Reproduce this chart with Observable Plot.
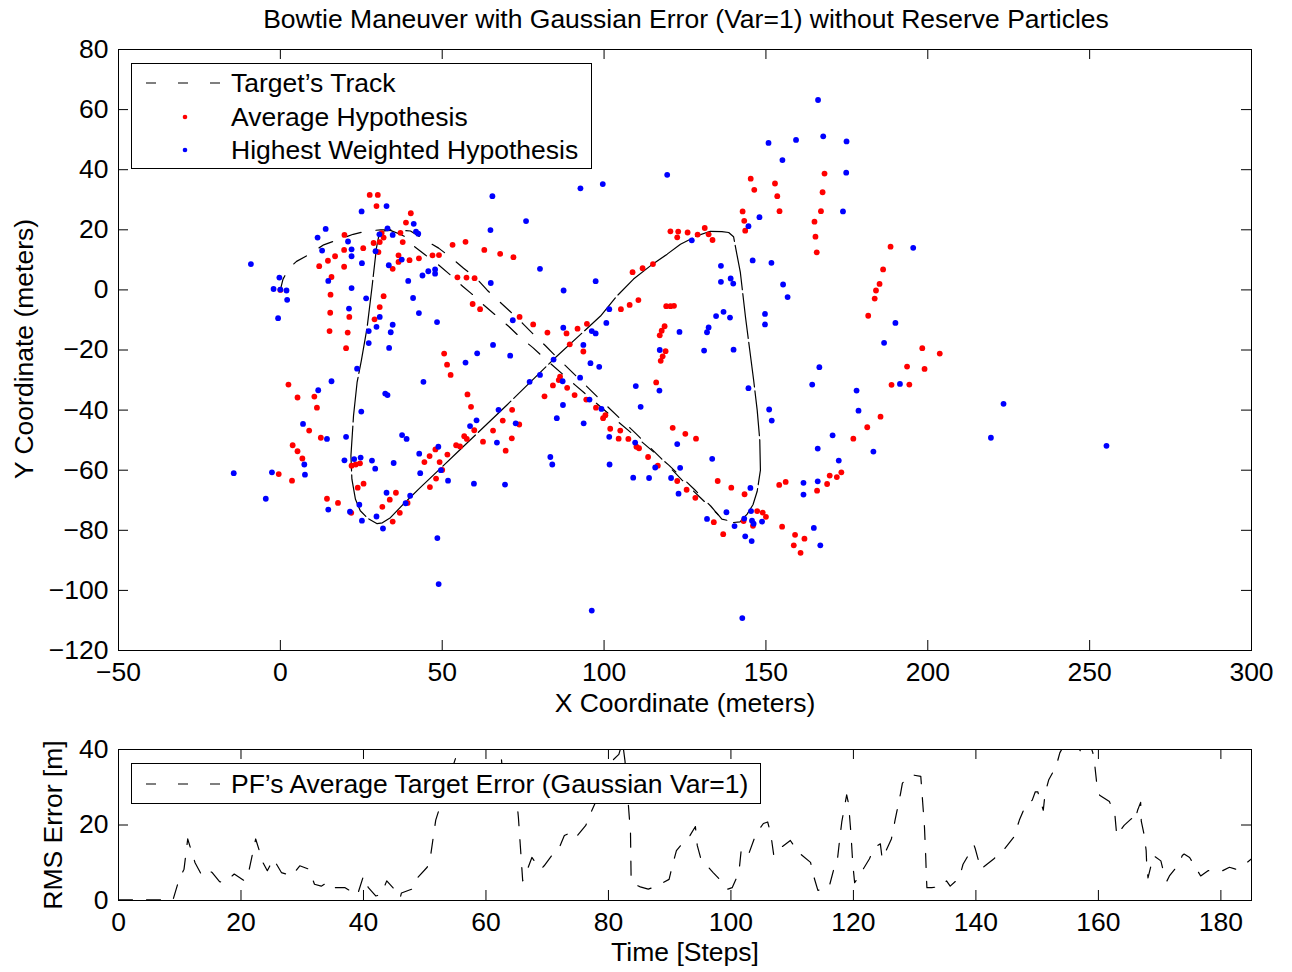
<!DOCTYPE html>
<html>
<head>
<meta charset="utf-8">
<script src="https://cdn.jsdelivr.net/npm/d3@7"></script>
<script src="https://cdn.jsdelivr.net/npm/@observablehq/plot@0.6"></script>
<style>
  body { margin: 0; background: #fff; }
  #fig { position: relative; width: 1292px; height: 972px; background: #fff; color: #000; overflow: hidden; }
  #fig > svg, #fig > .layer { position: absolute; left: 0; }
</style>
</head>
<body>
<div id="fig"></div>
<script>
// ---------------- data ----------------
const titleText = "Bowtie Maneuver with Gaussian Error (Var=1) without Reserve Particles";
const xLabelTop = "X Coordinate (meters)";
const yLabelTop = "Y Coordinate (meters)";
const xLabelBottom = "Time [Steps]";
const yLabelBottom = "RMS Error [m]";
const legendTop = ["Target\u2019s Track", "Average Hypothesis", "Highest Weighted Hypothesis"];
const legendBottom = ["PF\u2019s Average Target Error (Gaussian Var=1)"];

const xTicksTop = [-50, 0, 50, 100, 150, 200, 250, 300];
const yTicksTop = [-120, -100, -80, -60, -40, -20, 0, 20, 40, 60, 80];
const xTicksBottom = [0, 20, 40, 60, 80, 100, 120, 140, 160, 180];
const yTicksBottom = [0, 20, 40];

// Average Hypothesis (red)
const avgX = [27.6,30.1,29.7,40.3,38.8,19.8,31.3,31.9,37.1,28.8,30.7,37.8,19.7,25.6,30.3,16.9,14.7,12.0,19.7,36.5,36.5,39.9,42.8,34.7,15.8,0,15.5,31.9,30.7,29.1,15.4,21.3,15.2,20.8,20.3,2.5,5.3,10.5,11.3,8.9,12.5,3.8,5.3,6.8,-0.5,3.6,22.0,23.3,24.6,25.7,23.9,35.7,33.8,39.3,14.4,17.8,31.5,21.9,36.9,34.7,
53.2,57.2,63.0,67.9,72.0,47.0,49.0,54.7,57.5,60.0,59.4,61.7,73.9,78.1,82.5,88.4,91.8,94.7,89.4,93.6,50.6,51.5,52.6,57.8,58.9,71.6,68.7,73.8,65.7,59.9,56.8,57.6,62.6,71.5,54.3,55.5,69.6,47.9,46.1,44.5,51.6,49.2,50.0,48.1,46.2,86.4,86.0,84.2,88.6,81.6,90.9,94.5,97.5,100.4,99.7,101.9,
145.3,146.4,152.8,153.5,154.2,142.8,143.3,143.6,120.5,122.9,125.8,122.6,131.1,128.9,132.3,133.5,115.1,111.9,108.8,110.6,107.9,105.2,119.2,120.5,121.6,118.7,117.8,117.2,119.0,118.1,117.5,116.1,105.0,104.5,107.5,110.0,110.8,121.2,125.1,128.4,113.6,116.6,122.6,125.5,128.2,135.1,139.3,143.4,133.9,136.8,143.1,146.0,147.3,149.0,150.0,154.1,156.1,155.0,159.0,158.6,160.7,
168.1,167.5,167.0,165.0,165.3,165.7,188.5,186.2,185.1,184.0,183.6,181.6,198.3,203.7,193.6,199.0,188.8,194.3,185.4,181.3,177.0,173.3,171.9,169.7,168.9,165.8,161.9];
const avgY = [31.6,31.6,27.9,25.5,22.4,18.3,18.9,17.4,19.0,15.6,15.9,15.9,13.3,13.9,12.6,11.2,9.7,7.9,7.7,11.5,9.3,9.9,10.5,7.0,4.3,0,-1.6,-2.1,-5.7,-9.8,-7.6,-9.0,-13.7,-14.2,-19.4,-31.5,-35.8,-35.5,-39.2,-46.8,-49.2,-51.7,-53.7,-56.1,-61.3,-63.5,-58.5,-58.1,-57.7,-64.5,-65.8,-67.5,-69.8,-70.9,-69.5,-70.9,-72.2,-74.2,-74.2,-77.1,
15.0,16.0,13.3,12.0,10.9,11.5,11.6,4.2,4.1,3.9,-4.7,-6.4,-9.0,-11.5,-14.2,-14.5,-12.9,-11.3,-18.1,-20.5,-21.2,-24.9,-28.3,-34.8,-38.9,-39.9,-43.5,-44.8,-46.8,-46.7,-48.7,-49.6,-50.5,-49.4,-51.7,-52.1,-53.5,-53.1,-55.3,-57.3,-54.8,-57.3,-59.9,-62.8,-65.6,-28.9,-30.0,-31.8,-32.6,-35.4,-35.0,-36.5,-39.2,-41.7,-42.7,-46.2,
37.0,33.3,35.4,31.2,26.2,26.1,23.0,19.7,19.5,19.4,19.1,17.5,20.6,18.4,18.5,16.6,8.6,7.2,5.9,-3.4,-5.0,-6.4,-5.4,-5.4,-5.3,-12.1,-13.6,-15.1,-20.4,-22.1,-23.6,-30.8,-46.8,-49.5,-49.6,-52.2,-52.7,-45.9,-47.9,-49.5,-55.6,-58.5,-63.6,-66.5,-69.2,-63.6,-65.8,-68.0,-77.3,-81.3,-76.9,-78.5,-73.6,-74.1,-75.5,-64.9,-63.9,-78.8,-81.5,-85.0,-87.5,
38.7,32.5,26.2,22.7,17.7,12.5,14.4,6.8,2.0,-0.2,-2.9,-8.6,-19.4,-21.2,-25.5,-26.3,-31.6,-31.5,-42.2,-45.7,-49.5,-60.7,-62.3,-61.8,-64.6,-66.8,-82.8];

// Highest Weighted Hypothesis (blue)
const bestX = [32.8,25.1,14.0,11.5,20.9,33.1,30.6,34.7,41.2,41.9,42.6,12.9,22.0,22.0,29.4,25.2,33.5,37.5,-9.1,-0.3,-2.1,0,1.9,2.1,-0.7,14.8,22.0,39.5,41.0,42.8,26.5,21.2,30.7,34.7,29.7,27.3,34.1,27.3,33.6,
23.7,15.8,11.7,32.4,33.1,25.0,7.0,20.3,14.4,37.6,39.0,42.9,19.8,22.8,24.8,28.3,29.3,35.0,7.4,7.6,-2.6,-14.4,43.2,-4.5,32.8,40.1,24.4,38.7,14.8,21.5,29.7,25.2,31.7,
65.5,75.9,92.7,99.6,64.9,80.2,47.8,45.7,47.8,43.9,65.0,87.5,97.4,48.4,71.8,87.4,100.7,101.6,96.2,97.4,93.6,65.7,60.8,71.0,84.4,57.2,44.2,80.2,77.0,87.2,92.6,95.8,98.5,95.5,99.2,87.3,85.4,93.7,101.6,101.7,67.4,60.6,58.6,72.7,66.9,48.8,49.6,51.8,59.8,69.4,83.4,84.0,48.5,48.9,96.2,
119.5,150.8,159.3,155.1,148.0,144.6,127.1,145.9,151.7,136.1,136.1,139.1,139.9,155.3,156.7,136.9,134.6,149.7,138.9,149.7,132.3,131.8,123.3,117.2,130.9,140.0,144.6,109.8,117.1,111.3,151.0,151.8,109.6,122.6,133.4,109.0,113.9,115.8,123.5,120.7,123.0,145.2,137.8,131.8,140.3,145.4,143.3,145.7,146.2,148.8,143.6,145.6,142.7,
166.1,167.7,174.9,174.8,173.8,195.5,190.0,186.5,166.5,164.3,178.0,191.4,178.6,170.6,166.0,183.2,172.5,161.6,166.0,161.6,164.8,166.8,223.4,219.5,255.2];
const bestY = [27.9,26.1,20.3,17.4,16.1,20.5,18.5,18.3,22.0,19.4,18.7,13.1,13.5,11.2,12.9,8.9,8.2,10.1,8.6,4.1,0.3,0.1,-0.2,-3.3,-9.4,3.0,0.6,3.0,-2.7,-7.7,-2.8,-6.2,-9.0,-11.6,-12.3,-13.7,-14.1,-17.7,-19.3,
-26.2,-30.4,-33.4,-34.5,-35.0,-40.5,-44.6,-48.9,-49.6,-48.3,-49.6,-54.5,-56.7,-56.3,-55.8,-56.8,-59.5,-57.6,-58.1,-61.5,-60.7,-61.0,-61.0,-69.5,-67.5,-68.5,-71.5,-71.0,-73.1,-73.8,-75.4,-76.8,-79.4,
31.2,22.9,33.8,35.2,19.9,7.0,6.8,6.2,5.4,4.8,2.3,-0.2,2.9,-10.7,-10.1,-12.6,-11.0,-6.4,-13.7,-14.5,-18.3,-18.3,-21.1,-21.9,-23.2,-24.2,-30.6,-28.3,-30.6,-30.4,-29.2,-24.4,-25.6,-36.5,-39.6,-38.3,-42.7,-44.4,-48.9,-58.1,-39.9,-43.4,-45.3,-44.4,-50.8,-52.2,-60.0,-63.5,-64.5,-64.8,-55.6,-58.1,-82.6,-97.9,-106.7,
38.3,48.9,49.9,43.2,24.2,21.2,16.5,9.8,9.0,8.0,2.7,3.8,2.1,1.8,-2.4,-7.3,-8.7,-8.0,-9.2,-11.5,-12.5,-14.1,-14.0,-20.0,-20.2,-19.9,-32.7,-32.0,-33.5,-38.9,-39.8,-43.5,-50.8,-51.3,-56.2,-62.5,-62.6,-59.1,-59.2,-62.6,-67.8,-65.9,-74.0,-76.2,-78.6,-73.6,-76.1,-76.8,-77.8,-77.1,-82.0,-83.6,-109.2,
63.2,51.1,49.4,39.0,26.1,14.0,-11.0,-17.6,-25.7,-31.5,-33.5,-31.3,-40.2,-48.4,-52.8,-53.8,-56.8,-64.2,-63.7,-68.1,-79.2,-85.0,-37.9,-49.2,-51.9];

// Target's track (A: first pass, B: return loop, C: second pass)
const trackX = [0,0.8,2.5,5,8.7,13.4,17.5,22.5,26.8,31,35,40.2,44.8,48.9,53,56.6,60.8,63.9,67.7,71,74.9,78.1,81.9,85,92,98.9,110,117.4,124.1,129.7,134.9,136.4,138.5,140,
140,142,144.2,146,147.3,148.3,148.1,147.3,146.2,145,143.7,142.1,141,140,138.5,136.4,132.8,128.7,123.6,119.5,114.3,109.1,104,98.9,84.4,70,55,43.2,38,34,31.5,29.9,27,24.7,23.2,22.1,21.8,22.6,23.7,25,26.8,28.3,29.7,30.5,31.9,34,
34,37,39.1,41.2,44.8,48.9,52.5,56.3,59.2,63,66.7,70.5,73.9,78,81.3,91,101.4,110.2,120,128,133,136.4,138.5];
const trackY = [0,3.5,7,9.5,11.7,15,16.6,18.5,19.6,20,20,19.6,16.5,13.9,10.5,7.2,3.6,-0.1,-3.9,-7.2,-11.2,-14.7,-18.6,-22,-29.3,-36.6,-48,-55.8,-63.3,-69.1,-74.4,-76.3,-76.8,-77.4,
-77.4,-77.2,-74.6,-71.5,-67,-60,-50,-40,-30,-20,-9.2,5.8,12,17.7,19.1,19.4,19.5,18,15.2,11.9,8,3.6,-2,-8.7,-23.1,-38.3,-53.7,-65.8,-71.3,-75.8,-77.5,-77.8,-76,-73.5,-69.7,-63,-55.2,-41.9,-30.8,-23.6,-12.5,0.8,14.1,18.5,19.6,19.8,
19.8,18.5,17.4,14.6,11.6,8.3,5,1.2,-1.4,-5.2,-8.6,-12.1,-15.6,-19.2,-22.5,-31.6,-41.2,-49.2,-58.3,-66.5,-72,-76.3,-76.6];
const trackSeg = [].concat(Array(34).fill("A"), Array(46).fill("B"), Array(23).fill("C"));

// RMS error (vertices)
const stepT = [0,8.9,9.9,10.7,11.3,12.5,13.5,14.3,15.3,16.5,17.2,18.9,20.6,21.3,22.4,23.6,24.3,25.3,26.6,28.3,29.6,31.1,32,33.1,34,34.6,37,39,40,40.8,42,42.9,43.8,45.3,46,46.2,47.9,48.8,50.4,51,51.4,51.8,53.5,55,56,59,61,62.3,62.6,63.5,65,65.3,66,66.9,67.5,68.3,69,69.5,71,71.9,72.8,73.7,74.6,76.3,77.2,79,80.8,81.7,82.3,82.7,83.6,83.7,84,85.2,86.5,87.9,89.9,90.5,91.1,92.5,93.3,94.2,94.5,95.1,97.1,98.4,99.5,100.2,101.3,101.7,102.9,104.1,105.3,106,106.5,107,107.5,109.7,111,113,113.5,114.2,116,116.8,117.4,117.8,118.1,118.9,119.2,119.6,119.9,120.2,121.1,122.6,123.5,124.4,124.7,126.2,126.8,127.7,128,129.5,131,131.6,131.8,131.9,132,132.8,134.6,135.2,135.8,137.3,137.9,139.7,139.9,140.8,142.9,144.7,146.2,147.1,148,149.2,149.7,150.1,151,151.3,151.9,153.1,153.7,155,156.9,157.3,157.7,158.5,159.1,159.4,159.7,160.2,161.8,162.7,163,164.2,165.4,165.9,166.4,166.9,167,167.5,167.8,167.9,168.1,169,170.2,170.8,171.2,171.6,173.1,173.7,174,174.9,176.7,177.9,180.3,181.4,182.4,184.2,185];
const rmsErr = [0.2,0.2,5.6,8.3,16.3,10,7,8.3,7.4,5,4.7,7,5.2,7.9,16.3,10,7.9,11,7.4,6.5,9.2,8.3,4.3,3.8,4.7,3.4,3.4,1.4,6.5,3.4,1.2,1.6,5.2,2.5,0.7,2,3,6,8.8,12.3,16.8,21.3,30,37.5,44,48,46,42,36,30,27,22,5.2,8.8,11.4,9.6,8.3,9.2,12.5,13.7,17.2,17.9,16.6,19.9,23.5,30,37.3,38.7,42,37,18,6,4.5,3.6,3,3.8,5.6,9.6,13.2,16,17.2,19.6,14.6,11,7.4,5.2,3,3.4,7.4,13.7,12.3,17.7,20.4,20.8,17.7,11.9,13.2,15.9,12.8,10.1,6.5,2.7,3.4,8.3,11,16.8,20.8,28,25.7,17.7,9.6,4.7,7,11,14.1,15,11,16.3,21.3,28.4,31.1,33.3,32.9,19.5,11.9,7,3.4,3.4,3.8,5.2,3.8,6,9.6,14.6,13.7,8.3,11,13.7,16.8,21.3,24.8,26.6,28.8,28.8,23.9,28.4,32,35.5,39.1,43,40,39.1,40.2,42,39.1,36,31.5,27.9,26.2,22.6,17.2,19.9,21.7,20.8,23.9,26,21,17.2,13.2,9.2,6,11.9,10.5,6.5,5.2,6.5,9.6,11.9,12.3,11.4,6.5,7.9,7.9,8.8,8.3,10,11];

// ---------------- build ----------------
const FONT = "'Liberation Sans', Arial, Helvetica, sans-serif";
const FS = 26.5;
const TICK = 10;
const fmt = d3.format("d");

const avg = avgX.map((x, i) => ({x, y: avgY[i]}));
const best = bestX.map((x, i) => ({x, y: bestY[i]}));
const track = trackX.map((x, i) => ({x, y: trackY[i], seg: trackSeg[i]}));
const rms = stepT.map((t, i) => ({t, v: rmsErr[i]}));

// MATLAB-style box with inward ticks on all four sides
function boxAxes(xt, yt, frameW, frameH) {
  return [
    Plot.tickX(xt, {x: d => d, stroke: "black", strokeWidth: 1, insetTop: frameH - TICK}),
    Plot.tickX(xt, {x: d => d, stroke: "black", strokeWidth: 1, insetBottom: frameH - TICK}),
    Plot.tickY(yt, {y: d => d, stroke: "black", strokeWidth: 1, insetRight: frameW - TICK}),
    Plot.tickY(yt, {y: d => d, stroke: "black", strokeWidth: 1, insetLeft: frameW - TICK}),
    Plot.frame({stroke: "black", strokeWidth: 1}),
    Plot.axisX({ticks: xt, anchor: "bottom", tickSize: 0, tickPadding: 12, fontSize: FS, fill: "black", tickFormat: fmt}),
    Plot.axisY({ticks: yt, anchor: "left", tickSize: 0, tickPadding: 10, fontSize: FS, fill: "black", tickFormat: fmt})
  ];
}

const topPlot = Plot.plot({
  width: 1292, height: 720,
  marginLeft: 118, marginRight: 41, marginTop: 49, marginBottom: 70,
  style: {fontFamily: FONT, fontSize: FS + "px", color: "black", background: "white", overflow: "visible"},
  x: {domain: [-50, 300], label: null},
  y: {domain: [-120, 80], label: null},
  marks: [
    Plot.line(track.filter(d => d.seg !== "B"), {x: "x", y: "y", z: "seg", stroke: "black", strokeWidth: 1.2, strokeDasharray: "15,15"}),
    Plot.line(track.filter(d => d.seg === "B"), {x: "x", y: "y", stroke: "black", strokeWidth: 1.2, strokeDasharray: "45,4"}),
    Plot.dot(avg, {x: "x", y: "y", r: 2.9, fill: "#ff0000", stroke: null}),
    Plot.dot(best, {x: "x", y: "y", r: 2.9, fill: "#0000ff", stroke: null}),
    ...boxAxes(xTicksTop, yTicksTop, 1292 - 118 - 41, 720 - 49 - 70)
  ]
});
topPlot.style.top = "0px";

const bottomPlot = Plot.plot({
  width: 1292, height: 252,
  marginLeft: 118, marginRight: 41, marginTop: 29, marginBottom: 72,
  style: {fontFamily: FONT, fontSize: FS + "px", color: "black", background: "white", overflow: "visible"},
  x: {domain: [0, 185], label: null},
  y: {domain: [0, 40], label: null},
  marks: [
    Plot.line(rms, {x: "t", y: "v", stroke: "black", strokeWidth: 1.2, strokeDasharray: "14,14", clip: true}),
    ...boxAxes(xTicksBottom, yTicksBottom, 1292 - 118 - 41, 252 - 29 - 72)
  ]
});
bottomPlot.style.top = "720px";

const fig = document.getElementById("fig");
fig.appendChild(topPlot);
fig.appendChild(bottomPlot);

// overlay: title, axis titles, legends
const ov = d3.create("svg").attr("class", "layer").attr("width", 1292).attr("height", 972)
  .style("top", "0px").style("font-family", FONT).style("font-size", FS + "px");
ov.append("text").attr("x", 686).attr("y", 28).attr("text-anchor", "middle").text(titleText);
ov.append("text").attr("x", 685).attr("y", 712).attr("text-anchor", "middle").text(xLabelTop);
ov.append("text").attr("transform", "translate(33,349) rotate(-90)").attr("text-anchor", "middle").text(yLabelTop);
ov.append("text").attr("x", 685).attr("y", 961).attr("text-anchor", "middle").text(xLabelBottom);
ov.append("text").attr("transform", "translate(62,825) rotate(-90)").attr("text-anchor", "middle").text(yLabelBottom);

// top legend
const lg1 = ov.append("g");
lg1.append("rect").attr("x", 131.5).attr("y", 63.5).attr("width", 460).attr("height", 105)
  .attr("fill", "white").attr("stroke", "black").attr("stroke-width", 1);
lg1.append("line").attr("x1", 146).attr("x2", 224).attr("y1", 83).attr("y2", 83)
  .attr("stroke", "black").attr("stroke-width", 1.2).attr("stroke-dasharray", "10,22");
lg1.append("circle").attr("cx", 185).attr("cy", 117).attr("r", 2.3).attr("fill", "#ff0000");
lg1.append("circle").attr("cx", 185).attr("cy", 150).attr("r", 2.3).attr("fill", "#0000ff");
legendTop.forEach((t, i) => lg1.append("text").attr("x", 231).attr("y", 92 + i * 33.5).text(t));

// bottom legend
const lg2 = ov.append("g");
lg2.append("rect").attr("x", 131.5).attr("y", 763.5).attr("width", 629).attr("height", 40)
  .attr("fill", "white").attr("stroke", "black").attr("stroke-width", 1);
lg2.append("line").attr("x1", 146).attr("x2", 224).attr("y1", 784).attr("y2", 784)
  .attr("stroke", "black").attr("stroke-width", 1.2).attr("stroke-dasharray", "10,22");
lg2.append("text").attr("x", 231).attr("y", 793).text(legendBottom[0]);

fig.appendChild(ov.node());
</script>
</body>
</html>
